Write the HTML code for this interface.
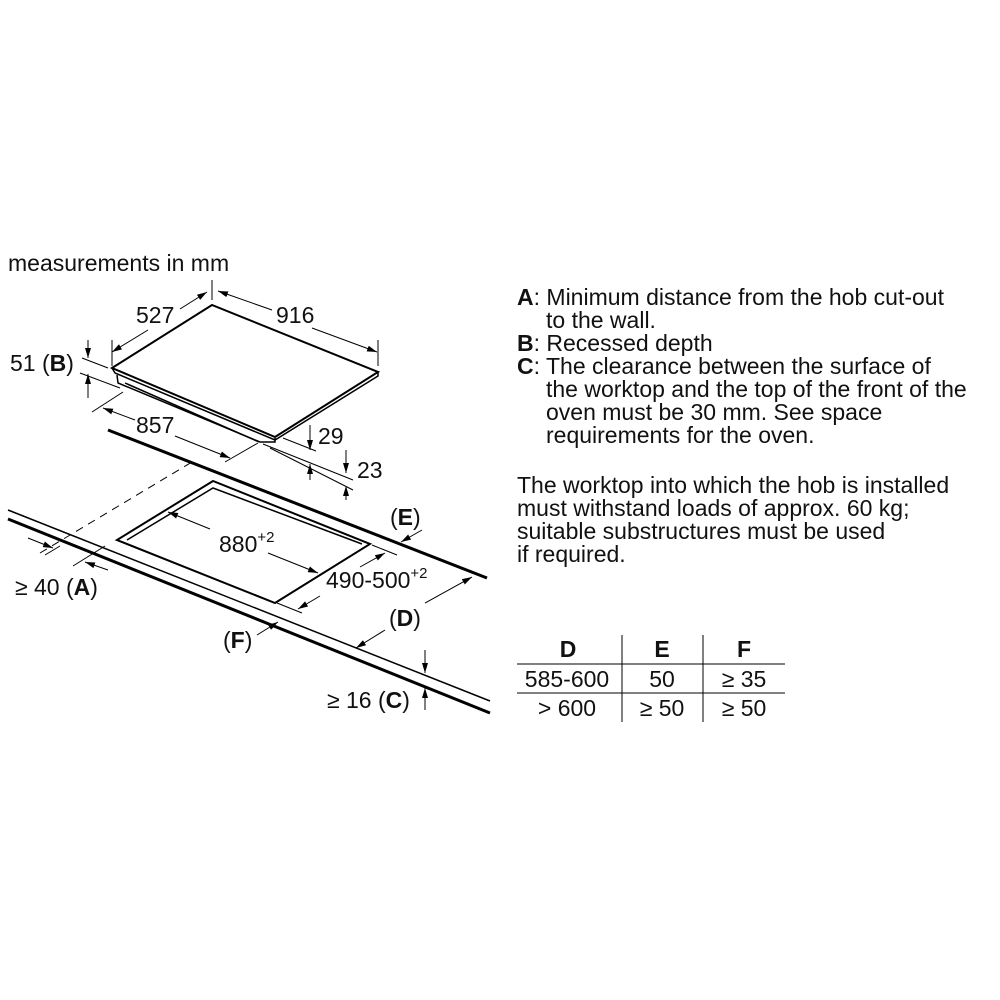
<!DOCTYPE html>
<html><head><meta charset="utf-8"><style>
html,body{margin:0;padding:0;background:#fff;width:1000px;height:1000px;overflow:hidden}
svg{position:absolute;left:0;top:0}
text{font-family:"Liberation Sans",sans-serif;fill:#111}
</style></head><body>
<svg width="1000" height="1000" viewBox="0 0 1000 1000">
<defs>
<marker id="a" viewBox="0 0 10 6" refX="10" refY="3" markerWidth="10" markerHeight="6" orient="auto" markerUnits="userSpaceOnUse"><path d="M0,0L10,3L0,6z" fill="#000"/></marker>
</defs>
<g font-size="23">
<text x="8" y="271">measurements in mm</text>
</g>
<!-- hob -->
<g fill="none" stroke="#000" stroke-width="2">
<path d="M112,368 L212,305 L378,372 L275,437 Z" fill="#fff"/>
<path d="M112,368 L115,373 L275,440 L378,376 L378,372" stroke-width="1.5"/>
<path d="M117,375 L118,383 L260,442 L275,442 L275,438" stroke-width="1.5"/>
<path d="M125,383 L259,442" stroke-width="1.5"/>
</g>
<g stroke="#000" stroke-width="1" fill="none">
<line x1="112" y1="340" x2="112" y2="366"/>
<line x1="212" y1="280" x2="212" y2="300"/>
<line x1="378" y1="340" x2="378" y2="366"/>
<line x1="148" y1="330" x2="112" y2="352" marker-end="url(#a)"/>
<line x1="180" y1="309" x2="207" y2="292" marker-end="url(#a)"/>
<line x1="272" y1="310" x2="218" y2="291" marker-end="url(#a)"/>
<line x1="312" y1="328" x2="377" y2="352" marker-end="url(#a)"/>
<line x1="82" y1="358" x2="108" y2="368"/>
<line x1="80" y1="373" x2="120" y2="388"/>
<line x1="88" y1="340" x2="88" y2="358" marker-end="url(#a)"/>
<line x1="88" y1="398" x2="88" y2="374" marker-end="url(#a)"/>
<line x1="92" y1="412" x2="123" y2="392"/>
<line x1="225" y1="462" x2="258" y2="443"/>
<line x1="135" y1="420" x2="103" y2="408" marker-end="url(#a)"/>
<line x1="175" y1="436" x2="230" y2="458" marker-end="url(#a)"/>
<line x1="283" y1="438" x2="316" y2="451"/>
<line x1="263" y1="444" x2="353" y2="480"/>
<line x1="270" y1="448" x2="353" y2="490"/>
<line x1="310" y1="425" x2="310" y2="450" marker-end="url(#a)"/>
<line x1="310" y1="480" x2="310" y2="464" marker-end="url(#a)"/>
<line x1="346" y1="450" x2="346" y2="473" marker-end="url(#a)"/>
<line x1="346" y1="500" x2="346" y2="486" marker-end="url(#a)"/>
</g>
<g font-size="23">
<text x="136" y="323">527</text>
<text x="276" y="323">916</text>
<text x="10" y="371">51 (<tspan font-weight="bold">B</tspan>)</text>
<text x="136" y="433">857</text>
<text x="318" y="444">29</text>
<text x="357" y="478">23</text>
</g>
<!-- worktop -->
<g stroke="#000" fill="none">
<line x1="108" y1="430" x2="487" y2="578" stroke-width="3"/>
<line x1="8" y1="510" x2="490" y2="701" stroke-width="1.5"/>
<line x1="8" y1="519" x2="490" y2="713" stroke-width="3"/>
<line x1="40" y1="553" x2="192" y2="462" stroke-width="1" stroke-dasharray="8,6"/>
<path d="M117,540 L213,481 L370,544 L275,603 Z" stroke-width="2"/>
<path d="M127,540 L213,488 L362,544" stroke-width="1.5"/>
</g>
<g stroke="#000" stroke-width="1" fill="none">
<line x1="210" y1="529" x2="168" y2="512" marker-end="url(#a)"/>
<line x1="268" y1="553" x2="318" y2="573" marker-end="url(#a)"/>
<line x1="372" y1="545" x2="397" y2="555"/>
<line x1="277" y1="603" x2="302" y2="613"/>
<line x1="360" y1="567" x2="385" y2="553" marker-end="url(#a)"/>
<line x1="320" y1="596" x2="298" y2="609" marker-end="url(#a)"/>
<line x1="422" y1="530" x2="401" y2="542" marker-end="url(#a)"/>
<line x1="425" y1="603" x2="472" y2="577" marker-end="url(#a)"/>
<line x1="385" y1="630" x2="356" y2="648" marker-end="url(#a)"/>
<line x1="257" y1="635" x2="278" y2="622" marker-end="url(#a)"/>
<line x1="28" y1="538" x2="53" y2="548" marker-end="url(#a)"/>
<line x1="108" y1="570" x2="85" y2="562" marker-end="url(#a)"/>
<line x1="45" y1="555" x2="60" y2="546"/>
<line x1="73" y1="566" x2="105" y2="546"/>
<line x1="425" y1="650" x2="425" y2="673" marker-end="url(#a)"/>
<line x1="425" y1="710" x2="425" y2="688" marker-end="url(#a)"/>
</g>
<g font-size="23">
<text x="219" y="552">880<tspan font-size="15" dy="-10">+2</tspan></text>
<text x="326" y="588">490-500<tspan font-size="15" dy="-10">+2</tspan></text>
<text x="390" y="525">(<tspan font-weight="bold">E</tspan>)</text>
<text x="389" y="626">(<tspan font-weight="bold">D</tspan>)</text>
<text x="223" y="648">(<tspan font-weight="bold">F</tspan>)</text>
<text x="15" y="595">≥ 40 (<tspan font-weight="bold">A</tspan>)</text>
<text x="327" y="708">≥ 16 (<tspan font-weight="bold">C</tspan>)</text>
</g>
<g font-size="23">
<text x="517" y="305"><tspan font-weight="bold">A</tspan>: Minimum distance from the hob cut-out</text>
<text x="546" y="328">to the wall.</text>
<text x="517" y="351"><tspan font-weight="bold">B</tspan>: Recessed depth</text>
<text x="517" y="374"><tspan font-weight="bold">C</tspan>: The clearance between the surface of</text>
<text x="546" y="397">the worktop and the top of the front of the</text>
<text x="546" y="420">oven must be 30 mm. See space</text>
<text x="546" y="443">requirements for the oven.</text>
<text x="517" y="493">The worktop into which the hob is installed</text>
<text x="517" y="516">must withstand loads of approx. 60 kg;</text>
<text x="517" y="539">suitable substructures must be used</text>
<text x="517" y="562">if required.</text>
</g>
<g stroke="#000" stroke-width="1">
<line x1="517" y1="664" x2="785" y2="664"/>
<line x1="517" y1="693" x2="785" y2="693"/>
<line x1="622" y1="635" x2="622" y2="722"/>
<line x1="703" y1="635" x2="703" y2="722"/>
</g>
<g font-size="23" text-anchor="middle">
<text x="568" y="657" font-weight="bold">D</text>
<text x="662" y="657" font-weight="bold">E</text>
<text x="744" y="657" font-weight="bold">F</text>
<text x="567" y="687">585-600</text>
<text x="662" y="687">50</text>
<text x="744" y="687">≥ 35</text>
<text x="567" y="716">&gt; 600</text>
<text x="662" y="716">≥ 50</text>
<text x="744" y="716">≥ 50</text>
</g>
</svg>
</body></html>
